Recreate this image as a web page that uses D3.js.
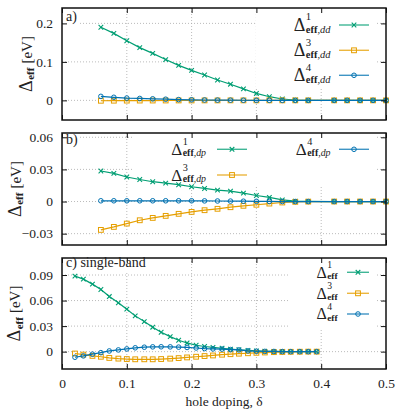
<!DOCTYPE html>
<html>
<head>
<meta charset="utf-8">
<script src="https://cdn.jsdelivr.net/npm/d3@7"></script>
<style>
  body { margin: 0; background: #fff; }
</style>
</head>
<body>
<svg id="chart" width="415" height="415"></svg>
<script>
// doping values of the three-band runs (no point at 0.40)
const dopingDD = [0.06, 0.08, 0.10, 0.12, 0.14, 0.16, 0.18, 0.20, 0.22, 0.24, 0.26,
  0.28, 0.30, 0.32, 0.34, 0.36, 0.38, 0.42, 0.44, 0.46, 0.48, 0.50];
// doping values of the single-band run
const dopingSB = [0.020, 0.033, 0.047, 0.060, 0.073, 0.087, 0.100, 0.113, 0.127, 0.140,
  0.153, 0.167, 0.180, 0.193, 0.207, 0.220, 0.233, 0.247, 0.260, 0.273, 0.287, 0.300,
  0.313, 0.327, 0.340, 0.353, 0.367, 0.380, 0.393];

const dd1 = [0.190, 0.174, 0.155, 0.137, 0.122, 0.106, 0.091, 0.078, 0.066, 0.053, 0.042,
  0.030, 0.018, 0.0095, 0.0035, 0.001, 0.0003, 0, 0, 0, 0, 0];
const dd3 = [-0.001, -0.0008, -0.0006, -0.0005, -0.0004, -0.0003, -0.0002, -0.0002, -0.0001,
  -0.0001, 0, 0, 0, 0, 0, 0, 0, 0, 0, 0, 0, 0];
const dd4 = [0.0104, 0.008, 0.006, 0.005, 0.004, 0.003, 0.002, 0.0015, 0.001, 0.0007, 0.0005,
  0.0003, 0.0002, 0.0001, 0, 0, 0, 0, 0, 0, 0, 0];

const dp1 = [0.0285, 0.0263, 0.0229, 0.0206, 0.0185, 0.0172, 0.0157, 0.0138, 0.0122, 0.0107,
  0.0097, 0.0078, 0.0056, 0.0038, 0.0016, 0.0003, 0.0001, 0, 0, 0, 0, 0];
const dp3 = [-0.0265, -0.0237, -0.0206, -0.0175, -0.0153, -0.0134, -0.0115, -0.0097, -0.0081,
  -0.0068, -0.0053, -0.004, -0.003, -0.0019, -0.0009, -0.0003, -0.0001, 0, 0, 0, 0, 0];
const dp4 = [0.0007, 0.0007, 0.0007, 0.0007, 0.0007, 0.0007, 0.0007, 0.0007, 0.0006, 0.0005,
  0.0004, 0.0003, 0.0002, 0.0001, 0, 0, 0, 0, 0, 0, 0, 0];

const sb1 = [0.0887, 0.0852, 0.0793, 0.073, 0.0647, 0.0573, 0.0499, 0.042, 0.0353, 0.0287,
  0.0228, 0.0176, 0.0134, 0.0102, 0.0075, 0.006, 0.005, 0.004, 0.003, 0.0022, 0.0014, 0.0008,
  0.0004, 0.0002, 0.0001, 0, 0, 0, 0];
const sb3 = [-0.0022, -0.0035, -0.005, -0.006, -0.0074, -0.0082, -0.0087, -0.009, -0.009, -0.009,
  -0.0087, -0.0082, -0.0076, -0.0068, -0.006, -0.0052, -0.0045, -0.0036, -0.003, -0.0024, -0.0019,
  -0.0014, -0.001, -0.0006, -0.0004, -0.0002, -0.0001, 0, 0];
const sb4 = [-0.0066, -0.005, -0.003, -0.0012, 0.0008, 0.002, 0.0032, 0.0045, 0.0052, 0.0056,
  0.0057, 0.0056, 0.0053, 0.0049, 0.0043, 0.0036, 0.0032, 0.003, 0.0024, 0.002, 0.0009, 0.0005,
  0.0003, 0.0002, 0.0001, 0, 0, 0, 0];

const xTicks = [0, 0.1, 0.2, 0.3, 0.4, 0.5];
const yTicksA = [0, 0.1, 0.2];
const yTicksB = [-0.03, 0, 0.03, 0.06];
const yTicksC = [0, 0.03, 0.06, 0.09];

const GREEN = '#009e73', ORANGE = '#e69f00', BLUE = '#0072b2';
const FONT = 'Liberation Serif';

const svg = d3.select('#chart');
const left = 62, right = 386;
const x = d3.scaleLinear().domain([0, 0.5]).range([left, right]);

const txt = (g) => g.append('text').attr('font-family', FONT).attr('fill', '#222');

// helper: Δ with superscript and "eff,sub" subscript, returns group + width
const delta = (g, sup, sub, size) => {
  const t = g.append('g');
  const d = txt(t).attr('font-size', size).text('Δ');
  const w = d.node().getComputedTextLength() + 0.5;
  let sw = 0;
  if (sup) {
    const s = txt(t).attr('x', w).attr('y', -size * 0.6)
      .attr('font-size', size * 0.6).text(sup);
    sw = s.node().getComputedTextLength();
  }
  const b = txt(t).attr('x', w).attr('y', size * 0.08)
    .attr('font-size', size * 0.58);
  b.append('tspan').attr('font-weight', 'bold').text('eff');
  if (sub) b.append('tspan').attr('font-style', 'italic').text(',' + sub);
  const bw = b.node().getComputedTextLength();
  return { g: t, width: w + Math.max(sw, bw) };
};

const marker = (g, type, cx, cy, color) => {
  if (type === 'cross') {
    const s = 2.3;
    g.append('path')
      .attr('d', `M${cx - s},${cy - s}L${cx + s},${cy + s}M${cx - s},${cy + s}L${cx + s},${cy - s}`)
      .attr('stroke', color).attr('stroke-width', 1.1).attr('fill', 'none');
  } else if (type === 'square') {
    g.append('rect').attr('x', cx - 2.4).attr('y', cy - 2.4).attr('width', 4.8).attr('height', 4.8)
      .attr('stroke', color).attr('stroke-width', 1).attr('fill', 'none');
  } else {
    g.append('circle').attr('cx', cx).attr('cy', cy).attr('r', 2.3)
      .attr('stroke', color).attr('stroke-width', 1).attr('fill', 'none');
  }
};

const panels = [
  {
    top: 8, bottom: 120, domain: [-0.051, 0.24], ticks: yTicksA, fmt: d => d === 0 ? '0' : d3.format('.1f')(d),
    tag: 'a)', tagY: 20.5, ylabX: 31.5, xs: dopingDD, deltaSize: 18,
    boxes: [[256, 9, 119, 79], [63, 9, 17, 15]],
    series: [
      { v: dd1, c: GREEN, m: 'cross', sup: '1', sub: 'dd', lx: 330.5, ly: 25, s0: 339, s1: 369 },
      { v: dd3, c: ORANGE, m: 'square', sup: '3', sub: 'dd', lx: 330.5, ly: 50.3, s0: 339, s1: 369 },
      { v: dd4, c: BLUE, m: 'circle', sup: '4', sub: 'dd', lx: 330.5, ly: 75.3, s0: 339, s1: 369 }
    ]
  },
  {
    top: 133, bottom: 245, domain: [-0.0406, 0.064], ticks: yTicksB, fmt: d => d === 0 ? '0' : d3.format('.2f')(d),
    tag: 'b)', tagY: 144, ylabX: 20.5, xs: dopingDD, deltaSize: 17,
    boxes: [[132, 134, 243, 53], [63, 134, 17, 14]],
    series: [
      { v: dp1, c: GREEN, m: 'cross', sup: '1', sub: 'dp', lx: 206, ly: 149.3, s0: 217, s1: 247 },
      { v: dp3, c: ORANGE, m: 'square', sup: '3', sub: 'dp', lx: 206, ly: 175, s0: 217, s1: 247 },
      { v: dp4, c: BLUE, m: 'circle', sup: '4', sub: 'dp', lx: 330.5, ly: 149.3, s0: 339, s1: 369 }
    ]
  },
  {
    top: 258, bottom: 369, domain: [-0.0204, 0.11], ticks: yTicksC, fmt: d => d === 0 ? '0' : d3.format('.2f')(d),
    tag: 'c) single-band', tagY: 267, ylabX: 20, xs: dopingSB, deltaSize: 16,
    boxes: [[288, 259, 87, 69], [63, 259, 89, 12]],
    series: [
      { v: sb1, c: GREEN, m: 'cross', sup: '1', sub: '', lx: 337.5, ly: 272.3, s0: 347, s1: 369 },
      { v: sb3, c: ORANGE, m: 'square', sup: '3', sub: '', lx: 337.5, ly: 293.3, s0: 347, s1: 369 },
      { v: sb4, c: BLUE, m: 'circle', sup: '4', sub: '', lx: 337.5, ly: 314, s0: 347, s1: 369 }
    ]
  }
];

panels.forEach((p, pi) => {
  const y = d3.scaleLinear().domain(p.domain).range([p.bottom, p.top]);
  const g = svg.append('g');

  // grid
  const grid = g.append('g').attr('stroke', '#aaa').attr('stroke-width', 0.8).attr('stroke-dasharray', '1,2');
  xTicks.filter(t => t > 0 && t < 0.5).forEach(t => {
    grid.append('line').attr('x1', x(t)).attr('x2', x(t)).attr('y1', p.top).attr('y2', p.bottom);
  });
  p.ticks.forEach(t => {
    grid.append('line').attr('x1', left).attr('x2', right).attr('y1', y(t)).attr('y2', y(t));
  });

  // opaque key / tag boxes
  p.boxes.forEach(b => {
    g.append('rect').attr('x', b[0]).attr('y', b[1]).attr('width', b[2]).attr('height', b[3]).attr('fill', '#fff');
  });

  // data
  const line = d3.line().x((d, i) => x(p.xs[i])).y(d => y(d));
  p.series.forEach(s => {
    g.append('path').datum(s.v).attr('d', line)
      .attr('fill', 'none').attr('stroke', s.c).attr('stroke-width', 1.2);
    const mg = g.append('g');
    s.v.forEach((d, i) => marker(mg, s.m, x(p.xs[i]), y(d), s.c));
  });

  // legend
  p.series.forEach(s => {
    g.append('line').attr('x1', s.s0).attr('x2', s.s1).attr('y1', s.ly).attr('y2', s.ly)
      .attr('stroke', s.c).attr('stroke-width', 1.4).attr('opacity', 0.75);
    marker(g, s.m, (s.s0 + s.s1) / 2, s.ly, s.c);
    const lab = delta(g, s.sup, s.sub, p.deltaSize);
    lab.g.attr('transform', `translate(${s.lx - lab.width},${s.ly + p.deltaSize * 0.34})`);
  });

  // axes (inward ticks on all sides)
  const axB = g.append('g').attr('transform', `translate(0,${p.bottom})`)
    .call(d3.axisBottom(x).tickValues(xTicks).tickSize(-5).tickPadding(9)
      .tickFormat(pi === 2 ? (d => d === 0 ? '0' : d3.format('.1f')(d)) : ''));
  const axT = g.append('g').attr('transform', `translate(0,${p.top})`)
    .call(d3.axisTop(x).tickValues(xTicks).tickSize(-5).tickFormat(''));
  const axL = g.append('g').attr('transform', `translate(${left},0)`)
    .call(d3.axisLeft(y).tickValues(p.ticks).tickSize(-5).tickPadding(9).tickFormat(p.fmt));
  const axR = g.append('g').attr('transform', `translate(${right},0)`)
    .call(d3.axisRight(y).tickValues(p.ticks).tickSize(-5).tickFormat(''));
  [axB, axT, axL, axR].forEach(a => {
    a.attr('font-family', FONT).attr('font-size', 13.5);
    a.select('.domain').remove();
    a.selectAll('line').attr('stroke', '#111').attr('stroke-width', 1);
    a.selectAll('text').attr('fill', '#222');
  });

  // frame
  g.append('rect').attr('x', left).attr('y', p.top).attr('width', right - left).attr('height', p.bottom - p.top)
    .attr('fill', 'none').attr('stroke', '#111').attr('stroke-width', 1.5);

  // panel tag
  txt(g).attr('x', 66).attr('y', p.tagY).attr('font-size', 14).text(p.tag);

  // y label: Δ_eff [eV]
  const yl = g.append('g');
  const d0 = txt(yl).attr('font-size', 18).text('Δ');
  const w0 = d0.node().getComputedTextLength() + 0.5;
  const sb = txt(yl).attr('x', w0).attr('y', 2.5).attr('font-size', 11).attr('font-weight', 'bold').text('eff');
  const w1 = w0 + sb.node().getComputedTextLength() + 4;
  const ev = txt(yl).attr('x', w1).attr('font-size', 15).text('[eV]');
  const total = w1 + ev.node().getComputedTextLength();
  yl.attr('transform', `translate(${p.ylabX},${(p.top + p.bottom) / 2}) rotate(-90) translate(${-total / 2},0)`);
});

// x label
txt(svg).attr('x', 224).attr('y', 406).attr('text-anchor', 'middle')
  .attr('font-size', 13.5).text('hole doping, δ');
</script>
</body>
</html>
